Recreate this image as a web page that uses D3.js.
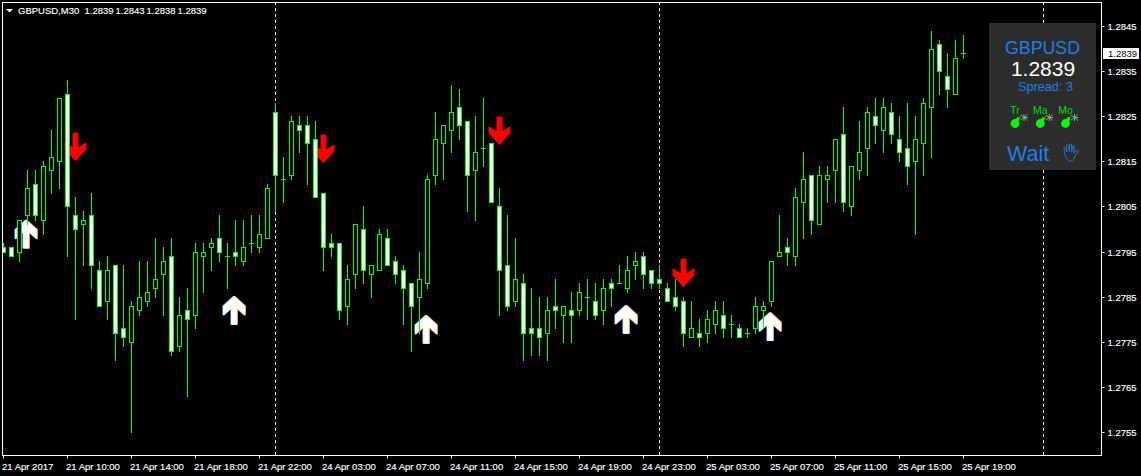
<!DOCTYPE html>
<html>
<head>
<meta charset="utf-8">
<script src="https://cdn.jsdelivr.net/npm/d3@7"></script>
<style>
    html, body { margin: 0; padding: 0; background: #000; overflow: hidden; }
    #chart { width: 1141px; height: 476px; }
    text { font-family: "Liberation Sans", Arial, sans-serif; }
    .axis text { font-size: 9.5px; fill: #fff; stroke: #fff; stroke-width: 0.15px; }
</style>
</head>
<body>
<div id="chart"></div>
<script>
// GBPUSD M30 candles, one entry per bar
const opens = [
    1.2796,1.2796,1.2795,1.2803,1.2810,1.2802,1.2813,1.2815,1.2830,1.2803,1.2801,1.2803,1.2791,1.2784,1.2792,1.2778,
    1.2775,1.2782,1.2784,1.2787,1.2790,1.2794,1.2774,1.2782,1.2781,1.2794,1.2796,1.2798,1.2794,1.2795,1.2793,1.2797,
    1.2796,1.2798,1.2826,1.2811,1.2812,1.2823,1.2823,1.2820,1.2808,1.2797,1.2797,1.2783,1.2790,1.2800,1.2790,1.2791,
    1.2798,1.2793,1.2791,1.2788,1.2785,1.2788,1.2812,1.2819,1.2822,1.2827,1.2824,1.2813,1.2818,1.2819,1.2805,1.2792,
    1.2784,1.2788,1.2778,1.2778,1.2777,1.2783,1.2781,1.2782,1.2782,1.2785,1.2784,1.2782,1.2788,1.2788,1.2787,1.2792,
    1.2794,1.2791,1.2789,1.2787,1.2785,1.2784,1.2776,1.2777,1.2777,1.2779,1.2781,1.2779,1.2778,1.2777,1.2778,1.2782,
    1.2784,1.2794,1.2796,1.2794,1.2806,1.2812,1.2801,1.2811,1.2813,1.2821,1.2805,1.2813,1.2818,1.2825,1.2822,1.2826,
    1.2820,1.2818,1.2815,1.2819,1.2827,1.2841,1.2834,1.2830,1.2839
];
const highs = [
    1.2797,1.2796,1.2802,1.2813,1.2813,1.2815,1.2822,1.2829,1.2833,1.2807,1.2804,1.2808,1.2793,1.2794,1.2792,1.2792,
    1.2784,1.2793,1.2793,1.2798,1.2796,1.2798,1.2785,1.2787,1.2797,1.2797,1.2798,1.2803,1.2797,1.2802,1.2802,1.2803,
    1.2803,1.2810,1.2828,1.2816,1.2825,1.2825,1.2825,1.2824,1.2808,1.2799,1.2797,1.2792,1.2801,1.2805,1.2792,1.2800,
    1.2800,1.2794,1.2792,1.2788,1.2795,1.2812,1.2826,1.2823,1.2832,1.2831,1.2824,1.2825,1.2829,1.2819,1.2809,1.2803,
    1.2798,1.2790,1.2787,1.2785,1.2785,1.2789,1.2783,1.2786,1.2788,1.2789,1.2788,1.2789,1.2789,1.2792,1.2794,1.2795,
    1.2795,1.2791,1.2792,1.2788,1.2789,1.2785,1.2784,1.2780,1.2782,1.2784,1.2784,1.2781,1.2779,1.2778,1.2785,1.2784,
    1.2793,1.2803,1.2798,1.2809,1.2817,1.2812,1.2814,1.2814,1.2820,1.2827,1.2814,1.2824,1.2827,1.2829,1.2829,1.2828,
    1.2825,1.2828,1.2825,1.2829,1.2844,1.2842,1.2839,1.2842,1.2843
];
const lows = [
    1.2795,1.2794,1.2793,1.2801,1.2802,1.2799,1.2808,1.2809,1.2794,1.2780,1.2792,1.2787,1.2783,1.2780,1.2771,1.2774,
    1.2755,1.2781,1.2783,1.2785,1.2781,1.2772,1.2773,1.2763,1.2778,1.2786,1.2791,1.2793,1.2787,1.2792,1.2792,1.2795,
    1.2795,1.2798,1.2804,1.2806,1.2811,1.2817,1.2810,1.2807,1.2791,1.2794,1.2780,1.2779,1.2787,1.2788,1.2785,1.2791,
    1.2792,1.2788,1.2779,1.2773,1.2777,1.2787,1.2810,1.2811,1.2817,1.2820,1.2804,1.2802,1.2814,1.2806,1.2781,1.2782,
    1.2783,1.2771,1.2772,1.2772,1.2771,1.2778,1.2775,1.2775,1.2781,1.2780,1.2780,1.2779,1.2783,1.2788,1.2786,1.2789,
    1.2787,1.2787,1.2787,1.2784,1.2782,1.2774,1.2776,1.2774,1.2775,1.2777,1.2776,1.2776,1.2776,1.2776,1.2777,1.2778,
    1.2783,1.2794,1.2792,1.2792,1.2798,1.2799,1.2801,1.2806,1.2806,1.2804,1.2803,1.2811,1.2812,1.2819,1.2817,1.2819,
    1.2815,1.2810,1.2799,1.2812,1.2816,1.2830,1.2827,1.2830,1.2838
];
const closes = [
    1.2795,1.2794,1.2802,1.2809,1.2803,1.2814,1.2816,1.2829,1.2805,1.2800,1.2802,1.2792,1.2783,1.2791,1.2777,1.2776,
    1.2783,1.2785,1.2786,1.2789,1.2793,1.2773,1.2781,1.2780,1.2795,1.2795,1.2797,1.2795,1.2794,1.2794,1.2796,1.2797,
    1.2799,1.2809,1.2812,1.2811,1.2824,1.2822,1.2819,1.2807,1.2796,1.2796,1.2782,1.2789,1.2801,1.2791,1.2792,1.2799,
    1.2792,1.2790,1.2787,1.2783,1.2789,1.2811,1.2820,1.2823,1.2826,1.2823,1.2812,1.2817,1.2818,1.2806,1.2791,1.2783,
    1.2789,1.2777,1.2777,1.2776,1.2782,1.2782,1.2783,1.2781,1.2786,1.2785,1.2781,1.2787,1.2787,1.2788,1.2791,1.2793,
    1.2790,1.2788,1.2788,1.2784,1.2783,1.2777,1.2778,1.2776,1.2780,1.2782,1.2778,1.2779,1.2776,1.2777,1.2783,1.2783,
    1.2793,1.2795,1.2795,1.2807,1.2811,1.2802,1.2812,1.2812,1.2820,1.2806,1.2814,1.2817,1.2826,1.2823,1.2827,1.2821,
    1.2817,1.2814,1.2820,1.2828,1.2840,1.2835,1.2831,1.2838,1.2839
];

// axis labels
const timeTickBars = [0,8,16,24,32,40,48,56,64,72,80,88,96,104,112,120];
const timeTickLabels = [
    "21 Apr 2017","21 Apr 10:00","21 Apr 14:00","21 Apr 18:00","21 Apr 22:00","24 Apr 03:00","24 Apr 07:00","24 Apr 11:00",
    "24 Apr 15:00","24 Apr 19:00","24 Apr 23:00","25 Apr 03:00","25 Apr 07:00","25 Apr 11:00","25 Apr 15:00","25 Apr 19:00"
];
const priceTicks = [1.2845,1.2835,1.2825,1.2815,1.2805,1.2795,1.2785,1.2775,1.2765,1.2755];

// day separators (the last one falls after the last bar)
const separatorBars = [34,82,130];

// indicator signals: bar and price at the arrow tip
const sellBars = [9,40,62,85];
const sellPrices = [1.28150,1.28146,1.28186,1.27871];
const buyBars = [3,29,53,78,96];
const buyPrices = [1.28021,1.27852,1.27810,1.27832,1.27816];

// info panel
const panelSymbol = "GBPUSD";
const panelSpread = 3;
const panelSignals = ["Tr","Ma","Mo"];
const panelStatus = "Wait";

const width = 1141;
const height = 476;
const margin = {top: 2, left: 2, right: 39, bottom: 20};
const green = "#00ff00";
const blue = "#1f7fe6";

const svg = d3.select("#chart")
    .append("svg")
    .attr("width", width)
    .attr("height", height)
    .style("display", "block");

const xScale = d3.scaleLinear().domain([0, 120]).range([3, 963]);
const yScale = d3.scaleLinear().domain([1.2845, 1.2755]).range([26, 432]);

// pixel snapped positions, the terminal draws without antialiasing
const px = i => xScale(i) + 0.5;
const py = p => Math.round(yScale(p)) + 0.5;

svg.append("defs").append("clipPath")
    .attr("id", "plotClip")
    .append("rect")
    .attr("x", margin.left + 1)
    .attr("y", margin.top + 1)
    .attr("width", width - margin.right - margin.left - 1)
    .attr("height", height - margin.bottom - margin.top - 1);

const plot = svg.append("g").attr("clip-path", "url(#plotClip)");

/**
    1. SEPARATORS
*/
plot.selectAll(".separator")
    .data(separatorBars)
    .enter()
    .append("line")
    .attr("class", "separator")
    .attr("x1", d => px(d))
    .attr("x2", d => px(d))
    .attr("y1", margin.top)
    .attr("y2", height - margin.bottom)
    .attr("stroke", "#fff")
    .attr("stroke-dasharray", "3,3");

/**
    2. ARROWS (sit under the candles)
*/
const downArrow = "M-3,-28.5L3,-28.5L3,-14L11,-19L11,-12L0,0L-11,-12L-11,-19L-3,-14Z";
const upArrow = "M0,0L11,10L11,20L3,13L3,29L-3,29L-3,13L-11,20L-11,10Z";

plot.selectAll(".sell")
    .data(sellBars)
    .enter()
    .append("path")
    .attr("class", "sell")
    .attr("d", downArrow)
    .attr("fill", "#ff0000")
    .attr("transform", (d, i) => `translate(${px(d)},${yScale(sellPrices[i])})`);

// the white arrows have the orange and blue fringe of the font rendering
[["#1f78d0", -1], ["#ff9a30", 1], ["#fff", 0]].forEach(function(layer) {
    plot.selectAll(".buy" + layer[1])
        .data(buyBars)
        .enter()
        .append("path")
        .attr("class", "buy" + layer[1])
        .attr("d", upArrow)
        .attr("fill", layer[0])
        .attr("transform", (d, i) => `translate(${px(d) - 1.5 + layer[1]},${yScale(buyPrices[i])})`);
});

/**
    3. CANDLES
*/
const bars = d3.range(opens.length);

plot.selectAll(".wick")
    .data(bars)
    .enter()
    .append("line")
    .attr("class", "wick")
    .attr("x1", d => px(d))
    .attr("x2", d => px(d))
    .attr("y1", d => py(highs[d]) - 0.5)
    .attr("y2", d => py(lows[d]) + 0.5)
    .attr("stroke", green);

plot.selectAll(".body")
    .data(bars.filter(d => opens[d] !== closes[d]))
    .enter()
    .append("rect")
    .attr("class", "body")
    .attr("x", d => px(d) - 2)
    .attr("width", 4)
    .attr("y", d => py(Math.max(opens[d], closes[d])))
    .attr("height", d => py(Math.min(opens[d], closes[d])) - py(Math.max(opens[d], closes[d])))
    .attr("fill", d => closes[d] < opens[d] ? "#fff" : "#000")
    .attr("stroke", green);

// open equals close: just a dash
plot.selectAll(".doji")
    .data(bars.filter(d => opens[d] === closes[d]))
    .enter()
    .append("line")
    .attr("class", "doji")
    .attr("x1", d => px(d) - 2.5)
    .attr("x2", d => px(d) + 2.5)
    .attr("y1", d => py(opens[d]))
    .attr("y2", d => py(opens[d]))
    .attr("stroke", green);

/**
    4. FRAME AND AXES
*/
svg.append("rect")
    .attr("x", margin.left + 0.5)
    .attr("y", margin.top + 0.5)
    .attr("width", width - margin.left - margin.right - 1)
    .attr("height", height - margin.top - margin.bottom - 1)
    .attr("fill", "none")
    .attr("stroke", "#fff");

const xAxis = svg.append("g")
    .attr("class", "axis")
    .attr("transform", `translate(0,${height - margin.bottom - 0.5})`)
    .call(d3.axisBottom(xScale)
        .tickValues(timeTickBars)
        .tickFormat((d, i) => timeTickLabels[i])
        .tickSize(3)
        .tickPadding(5));

xAxis.select(".domain").remove();
xAxis.selectAll("line").attr("stroke", "#fff");
xAxis.selectAll("text")
    .attr("text-anchor", "start")
    .attr("x", -1.5)
    .attr("font-family", null)
    .attr("font-size", null);

const yAxis = svg.append("g")
    .attr("class", "axis")
    .attr("transform", `translate(${width - margin.right - 0.5},0)`)
    .call(d3.axisRight(yScale)
        .tickValues(priceTicks)
        .tickFormat(d3.format(".4f"))
        .tickSize(3)
        .tickPadding(3));

yAxis.select(".domain").remove();
yAxis.selectAll(".tick")
    .attr("transform", d => `translate(0,${Math.round(yScale(d)) + 0.5})`);
yAxis.selectAll("line").attr("stroke", "#fff");
yAxis.selectAll("text")
    .attr("font-family", null)
    .attr("font-size", null);

// current price tag
const lastClose = closes[closes.length - 1];

svg.append("rect")
    .attr("x", 1103)
    .attr("y", py(lastClose) - 5.5)
    .attr("width", 36)
    .attr("height", 11)
    .attr("fill", "#fff");

svg.append("text")
    .attr("x", 1108)
    .attr("y", py(lastClose) + 3.5)
    .attr("font-size", "9.5px")
    .attr("fill", "#000")
    .text(d3.format(".4f")(lastClose));

// header top left
svg.append("path")
    .attr("d", "M6,9L13,9L9.5,12.5Z")
    .attr("fill", "#fff");

svg.append("text")
    .attr("x", 18)
    .attr("y", 14)
    .attr("font-size", "9.5px")
    .attr("fill", "#fff")
    .attr("stroke", "#fff")
    .attr("stroke-width", 0.15)
    .text("GBPUSD,M30");

const lastBar = [opens, highs, lows, closes].map(a => a[a.length - 1]);

svg.selectAll(".quote")
    .data(lastBar)
    .enter()
    .append("text")
    .attr("class", "quote")
    .attr("x", (d, i) => 84.5 + i * 31)
    .attr("y", 14)
    .attr("font-size", "9.5px")
    .attr("fill", "#fff")
    .attr("stroke", "#fff")
    .attr("stroke-width", 0.15)
    .text(d => d3.format(".4f")(d));

/**
    5. INFO PANEL
*/
const panel = svg.append("g");

panel.append("rect")
    .attr("x", 989)
    .attr("y", 23)
    .attr("width", 107)
    .attr("height", 147)
    .attr("fill", "#2c2c2c");

panel.append("text")
    .attr("x", 1005)
    .attr("y", 54)
    .attr("font-size", "18px")
    .attr("textLength", 75)
    .attr("lengthAdjust", "spacingAndGlyphs")
    .attr("fill", blue)
    .text(panelSymbol);

panel.append("text")
    .attr("x", 1043)
    .attr("y", 75.5)
    .attr("text-anchor", "middle")
    .attr("font-size", "21px")
    .attr("fill", "#fff")
    .text(d3.format(".4f")(lastClose));

panel.append("text")
    .attr("x", 1018)
    .attr("y", 91)
    .attr("font-size", "12.7px")
    .attr("fill", blue)
    .text("Spread: " + panelSpread);

const signalX = d3.scalePoint().domain(panelSignals).range([1015, 1065.5]);

const signal = panel.selectAll(".signal")
    .data(panelSignals)
    .enter()
    .append("g")
    .attr("class", "signal")
    .attr("transform", d => `translate(${signalX(d)},0)`);

signal.append("text")
    .attr("y", 114)
    .attr("text-anchor", "middle")
    .attr("font-size", "10.5px")
    .attr("fill", "#00dd00")
    .text(d => d);

signal.append("circle")
    .attr("cy", 123.5)
    .attr("r", 4.4)
    .attr("fill", green);

// fuse
signal.append("path")
    .attr("d", "M0.5,120L2.5,117.5L4.5,118.5L3,121ZM3.5,118L5.5,116.5")
    .attr("fill", green)
    .attr("stroke", green)
    .attr("stroke-width", 0.9);

// sparks
signal.append("path")
    .attr("d", "M9,117.5L12.5,114.5M9,117.5L13,117.5M9,117.5L12.5,120.5M9,117.5L9,114M9,117.5L9,121M9,117.5L5.5,115M9,117.5L5.5,120")
    .attr("fill", "none")
    .attr("stroke", "#8fd08f")
    .attr("stroke-width", 0.8);

panel.append("text")
    .attr("x", 1007)
    .attr("y", 161)
    .attr("font-size", "21.5px")
    .attr("fill", blue)
    .text(panelStatus);

// open hand next to the status
panel.append("path")
    .attr("d", "M-2,8C-5,6 -6,3 -7,-4C-7.5,-6 -5.5,-6 -5,-4L-4,-1L-4.5,-7C-4.5,-9 -2.5,-9 -2.3,-7L-1.5,-1.5L-1.5,-8C-1.5,-9.5 .5,-9.5 .5,-8L.8,-1.5L1.5,-6.5C2,-8 3.5,-7.5 3.3,-6L2.8,0L5.5,-2.5C7,-3.5 8,-2 7,-1L4,3C3,6 2,8 0,8Z")
    .attr("transform", "translate(1071,153)")
    .attr("fill", "none")
    .attr("stroke", blue)
    .attr("stroke-width", 0.9);
</script>
</body>
</html>
